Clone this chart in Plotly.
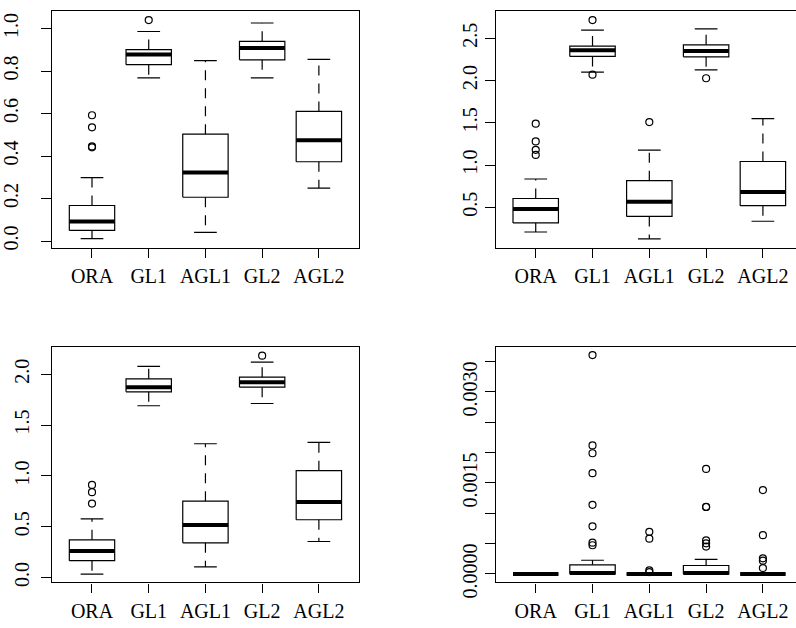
import plotly.graph_objects as go

categories = ["ORA", "GL1", "AGL1", "GL2", "AGL2"]

# Panel 1 (top-left)
p1_lower = [0.011, 0.768, 0.041, 0.768, 0.249]
p1_q1 = [0.050, 0.830, 0.206, 0.853, 0.373]
p1_med = [0.092, 0.878, 0.323, 0.908, 0.474]
p1_q3 = [0.167, 0.901, 0.503, 0.940, 0.610]
p1_upper = [0.298, 0.986, 0.849, 1.026, 0.855]
p1_out = [[0.592, 0.535, 0.445, 0.441], [1.040], [], [], []]
p1_ticks = [0.0, 0.2, 0.4, 0.6, 0.8, 1.0]
p1_ticktext = ["0.0", "0.2", "0.4", "0.6", "0.8", "1.0"]

# Panel 2 (top-right)
p2_lower = [0.208, 2.100, 0.127, 2.127, 0.335]
p2_q1 = [0.315, 2.285, 0.392, 2.281, 0.519]
p2_med = [0.481, 2.358, 0.565, 2.350, 0.681]
p2_q3 = [0.604, 2.408, 0.815, 2.423, 1.042]
p2_upper = [0.835, 2.596, 1.177, 2.612, 1.550]
p2_out = [[1.49, 1.28, 1.18, 1.12], [2.715, 2.069], [1.508], [2.027], []]
p2_ticks = [0.5, 1.0, 1.5, 2.0, 2.5]
p2_ticktext = ["0.5", "1.0", "1.5", "2.0", "2.5"]

# Panel 3 (bottom-left)
p3_lower = [0.035, 1.690, 0.105, 1.712, 0.355]
p3_q1 = [0.166, 1.827, 0.342, 1.872, 0.569]
p3_med = [0.262, 1.872, 0.518, 1.920, 0.744]
p3_q3 = [0.371, 1.955, 0.751, 1.971, 1.051]
p3_upper = [0.578, 2.077, 1.316, 2.118, 1.329]
p3_out = [[0.911, 0.840, 0.728], [], [], [2.182], []]
p3_ticks = [0.0, 0.5, 1.0, 1.5, 2.0]
p3_ticktext = ["0.0", "0.5", "1.0", "1.5", "2.0"]

# Panel 4 (bottom-right)
p4_lower = [0.0, 0.0, 0.0, 0.0, 0.0]
p4_q1 = [0.0, 0.000002, 0.0, 0.000002, 0.0]
p4_med = [0.0, 0.000016, 0.0, 0.000016, 0.0]
p4_q3 = [0.000003, 0.000150, 0.000008, 0.000140, 0.000006]
p4_upper = [0.000006, 0.000226, 0.000015, 0.000242, 0.000012]
p4_out = [[],
          [0.003607, 0.002118, 0.001989, 0.001661, 0.001140, 0.000785, 0.000516, 0.000473],
          [0.000694, 0.000581, 0.000059, 0.000032],
          [0.001731, 0.001107, 0.001104, 0.000554, 0.000505, 0.000452],
          [0.001382, 0.000640, 0.000258, 0.000220, 0.000097]]
p4_ticks = [0.0, 0.0005, 0.0010, 0.0015, 0.0020, 0.0025, 0.0030, 0.0035]
p4_ticktext = ["0.0000", "", "", "0.0015", "", "", "0.0030", ""]

panels = [
    (p1_lower, p1_q1, p1_med, p1_q3, p1_upper, p1_out),
    (p2_lower, p2_q1, p2_med, p2_q3, p2_upper, p2_out),
    (p3_lower, p3_q1, p3_med, p3_q3, p3_upper, p3_out),
    (p4_lower, p4_q1, p4_med, p4_q3, p4_upper, p4_out),
]

W, H = 796, 628
BOXW = 0.4
STAPLE = 0.2
LW = 1.2

fig = go.Figure()

for k, (lo, q1, md, q3, up, outs) in enumerate(panels):
    xa = "x" if k == 0 else f"x{k+1}"
    ya = "y" if k == 0 else f"y{k+1}"
    pos = list(range(1, len(categories) + 1))
    # whiskers (dashed)
    wx, wy = [], []
    for i, p in enumerate(pos):
        wx += [p, p, None, p, p, None]
        wy += [q3[i], up[i], None, q1[i], lo[i], None]
    fig.add_trace(go.Scatter(x=wx, y=wy, mode="lines", xaxis=xa, yaxis=ya,
                             line=dict(color="black", width=LW, dash="10px,8px"),
                             showlegend=False, hoverinfo="skip"))
    # staples
    sx, sy = [], []
    for i, p in enumerate(pos):
        sx += [p - STAPLE, p + STAPLE, None, p - STAPLE, p + STAPLE, None]
        sy += [up[i], up[i], None, lo[i], lo[i], None]
    fig.add_trace(go.Scatter(x=sx, y=sy, mode="lines", xaxis=xa, yaxis=ya,
                             line=dict(color="black", width=LW),
                             showlegend=False, hoverinfo="skip"))
    # boxes
    bx, by = [], []
    for i, p in enumerate(pos):
        bx += [p - BOXW, p + BOXW, p + BOXW, p - BOXW, p - BOXW, None]
        by += [q1[i], q1[i], q3[i], q3[i], q1[i], None]
    fig.add_trace(go.Scatter(x=bx, y=by, mode="lines", xaxis=xa, yaxis=ya,
                             line=dict(color="black", width=LW),
                             showlegend=False, hoverinfo="skip"))
    # medians
    mx, my = [], []
    for i, p in enumerate(pos):
        mx += [p - BOXW, p + BOXW, None]
        my += [md[i], md[i], None]
    fig.add_trace(go.Scatter(x=mx, y=my, mode="lines", xaxis=xa, yaxis=ya,
                             line=dict(color="black", width=4),
                             showlegend=False, hoverinfo="skip"))
    # outliers
    ox, oy = [], []
    for i, p in enumerate(pos):
        for v in outs[i]:
            ox.append(p)
            oy.append(v)
    fig.add_trace(go.Scatter(x=ox, y=oy, mode="markers", xaxis=xa, yaxis=ya,
                             marker=dict(symbol="circle-open", size=7,
                                         color="black", line=dict(width=1.2)),
                             showlegend=False, hoverinfo="skip"))

font = dict(family="Liberation Serif", size=20, color="black")

def px(xp):
    return xp / W

def py(yp):
    return 1 - yp / H

# geometry (pixels)
L_left, L_right = 45.7, 354.7
R_left = 493.3
top_row = (11.7, 254.0)
bot_row = (355.7, 597.7)
unit = 57.3

xdefs = [
    dict(domain=[px(L_left), px(L_right)], range=[0.3, 5.7], mirror=True),
    dict(domain=[px(R_left), 1.0], range=[0.3, 0.3 + (W - R_left) / unit], mirror=True),
    dict(domain=[px(L_left), px(L_right)], range=[0.3, 5.7], mirror=True),
    dict(domain=[px(R_left), 1.0], range=[0.3, 0.3 + (W - R_left) / unit], mirror=True),
]
ydefs = [
    dict(domain=[py(top_row[1]), py(top_row[0])], range=[-0.0307, 1.0807],
         tickvals=p1_ticks, ticktext=p1_ticktext, mirror=True, standoff=15),
    dict(domain=[py(top_row[1]), py(top_row[0])], range=[0.024, 2.818],
         tickvals=p2_ticks, ticktext=p2_ticktext, mirror=False, standoff=0),
    dict(domain=[py(bot_row[1]), py(bot_row[0])], range=[-0.048, 2.271],
         tickvals=p3_ticks, ticktext=p3_ticktext, mirror=True, standoff=4),
    dict(domain=[py(bot_row[1]), py(bot_row[0])], range=[-0.00014, 0.003746],
         tickvals=p4_ticks, ticktext=p4_ticktext, mirror=False, standoff=0),
]

layout = dict(width=W, height=H, margin=dict(l=0, r=0, t=0, b=0),
              paper_bgcolor="white", plot_bgcolor="white", showlegend=False)

for k in range(4):
    xk = "xaxis" if k == 0 else f"xaxis{k+1}"
    yk = "yaxis" if k == 0 else f"yaxis{k+1}"
    ya = "y" if k == 0 else f"y{k+1}"
    xa = "x" if k == 0 else f"x{k+1}"
    xd = xdefs[k]
    yd = ydefs[k]
    layout[xk] = dict(domain=xd["domain"], range=xd["range"], anchor=ya,
                      tickvals=list(range(1, len(categories) + 1)), ticktext=categories,
                      showline=True, mirror=xd["mirror"], linecolor="black", linewidth=LW,
                      ticks="outside", ticklen=9, tickwidth=LW, tickcolor="black",
                      ticklabelstandoff=1,
                      showgrid=False, zeroline=False, tickfont=font, fixedrange=True)
    layout[yk] = dict(domain=yd["domain"], range=yd["range"], anchor=xa,
                      tickvals=yd["tickvals"], ticktext=yd["ticktext"],
                      showline=True, mirror=yd["mirror"], linecolor="black", linewidth=LW,
                      ticks="outside", ticklen=10, tickwidth=LW, tickcolor="black",
                      tickangle=-90, ticklabelstandoff=yd["standoff"],
                      showgrid=False, zeroline=False, tickfont=font, fixedrange=True)

fig.update_layout(**layout)
fig.write_html("out.html")
